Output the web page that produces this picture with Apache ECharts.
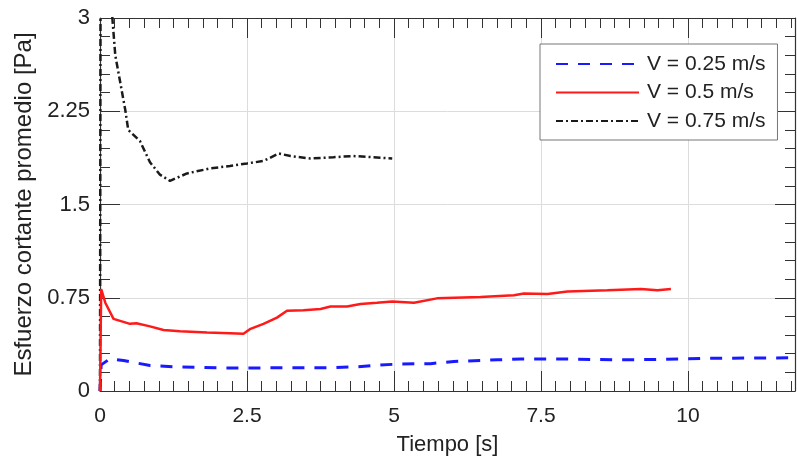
<!DOCTYPE html>
<html>
<head>
<meta charset="utf-8">
<script src="https://cdn.jsdelivr.net/npm/echarts@6/dist/echarts.min.js"></script>
<style>html,body{margin:0;padding:0;background:#fff;}#c{width:797px;height:461px;}</style>
</head>
<body>
<div id="c"></div>
<script>
const seriesNames = ['V = 0.25 m/s', 'V = 0.5 m/s', 'V = 0.75 m/s'];
const xTicks = [0, 2.5, 5, 7.5, 10];
const yTicks = [0, 0.75, 1.5, 2.25, 3];

const tBlue = [0, 0.02, 0.17, 0.4, 0.85, 1.25, 1.7, 2.1, 2.5, 3.24, 3.97, 4.37, 4.77, 5.11, 5.62, 6.02, 6.76, 7.16, 7.95, 8.74, 9.54, 10.22, 11.02, 11.82];
const vBlue = [0, 0.21, 0.26, 0.245, 0.205, 0.195, 0.19, 0.185, 0.185, 0.187, 0.188, 0.195, 0.21, 0.217, 0.22, 0.238, 0.251, 0.257, 0.257, 0.251, 0.254, 0.262, 0.265, 0.267];

const tRed = [0, 0.02, 0.09, 0.23, 0.51, 0.62, 0.85, 1.08, 1.36, 1.82, 2.21, 2.44, 2.56, 2.78, 3.01, 3.18, 3.46, 3.75, 3.92, 4.2, 4.43, 4.71, 4.97, 5.34, 5.73, 6.47, 7.04, 7.21, 7.61, 7.95, 8.63, 9.2, 9.48, 9.71];
const vRed = [0, 0.82, 0.71, 0.58, 0.54, 0.545, 0.52, 0.49, 0.48, 0.47, 0.465, 0.46, 0.5, 0.54, 0.59, 0.645, 0.65, 0.66, 0.68, 0.68, 0.70, 0.71, 0.72, 0.71, 0.745, 0.756, 0.77, 0.785, 0.78, 0.80, 0.81, 0.82, 0.81, 0.82];

const tBlack = [0, 0.01, 0.19, 0.21, 0.26, 0.43, 0.48, 0.68, 0.85, 1.02, 1.19, 1.48, 1.87, 2.21, 2.5, 2.78, 3.04, 3.24, 3.58, 3.97, 4.31, 4.65, 4.97];
const vBlack = [0, 3.6, 3.5, 3.0, 2.70, 2.26, 2.10, 2.01, 1.84, 1.74, 1.69, 1.75, 1.79, 1.81, 1.83, 1.85, 1.91, 1.89, 1.87, 1.88, 1.89, 1.88, 1.87];

const zip = (a, b) => a.map((x, i) => [x, b[i]]);
const FONT = 'Liberation Sans, Arial, sans-serif';
const AX = '#333';

const chart = echarts.init(document.getElementById('c'), null, {renderer: 'canvas'});

function xAx(pos, primary) {
  return {
    type: 'value', position: pos, min: 0, max: 11.82, interval: 2.5,
    name: primary ? 'Tiempo [s]' : '', nameLocation: 'middle', nameGap: 43,
    nameTextStyle: {fontFamily: FONT, fontSize: 22, color: '#222'},
    axisLine: {show: true, onZero: false, lineStyle: {color: AX, width: 1.2}},
    axisTick: {show: true, inside: true, length: 20, lineStyle: {color: AX, width: 1}},
    minorTick: {show: true, splitNumber: 10, length: 10, lineStyle: {color: AX, width: 1}},
    axisLabel: {show: primary, showMaxLabel: false, fontFamily: FONT, fontSize: 21, color: '#222', margin: 15,
      formatter: v => xTicks.includes(v) ? String(v) : ''},
    splitLine: {show: primary, lineStyle: {color: '#dcdcdc', width: 1}}
  };
}
function yAx(pos, primary) {
  return {
    type: 'value', position: pos, min: 0, max: 3, interval: 0.75,
    name: primary ? 'Esfuerzo cortante promedio [Pa]' : '', nameLocation: 'middle', nameGap: 64, nameRotate: 90,
    nameTextStyle: {fontFamily: FONT, fontSize: 24, color: '#222'},
    axisLine: {show: true, onZero: false, lineStyle: {color: AX, width: 1.2}},
    axisTick: {show: true, inside: true, length: 20, lineStyle: {color: AX, width: 1}},
    minorTick: {show: true, splitNumber: 5, length: 10, lineStyle: {color: AX, width: 1}},
    axisLabel: {show: primary, fontFamily: FONT, fontSize: 22, color: '#222', margin: 10,
      formatter: v => yTicks.includes(v) ? String(v) : ''},
    splitLine: {show: primary, lineStyle: {color: '#dcdcdc', width: 1}}
  };
}

chart.setOption({
  animation: false,
  backgroundColor: '#fff',
  grid: {left: 100, top: 18, right: 2, bottom: 69, containLabel: false},
  xAxis: [xAx('bottom', true), xAx('top', false)],
  yAxis: [yAx('left', true), yAx('right', false)],
  legend: {
    data: seriesNames,
    left: 540, top: 44,
    orient: 'vertical',
    backgroundColor: '#fff',
    borderColor: '#777', borderWidth: 1, borderRadius: 0,
    padding: [9, 12, 8, 15],
    itemWidth: 83, itemHeight: 14, itemGap: 6.5,
    itemStyle: {opacity: 0},
    textStyle: {fontFamily: FONT, fontSize: 21, color: '#222', lineHeight: 22, padding: [0, 0, 0, 3]}
  },
  series: [
    {name: seriesNames[0], type: 'line', data: zip(tBlue, vBlue), symbol: 'none', smooth: false,
      lineStyle: {color: '#1a1aff', width: 3, type: [12, 10]}, itemStyle: {color: '#1a1aff'}, z: 2},
    {name: seriesNames[2], type: 'line', data: zip(tBlack, vBlack), symbol: 'none', smooth: false,
      lineStyle: {color: '#1a1a1a', width: 2.5, type: [7, 3, 2, 3]}, itemStyle: {color: '#1a1a1a'}, z: 3},
    {name: seriesNames[1], type: 'line', data: zip(tRed, vRed), symbol: 'none', smooth: false,
      lineStyle: {color: '#ff1a1a', width: 2.5, type: 'solid'}, itemStyle: {color: '#ff1a1a'}, z: 4}
  ]
});
</script>
</body>
</html>
